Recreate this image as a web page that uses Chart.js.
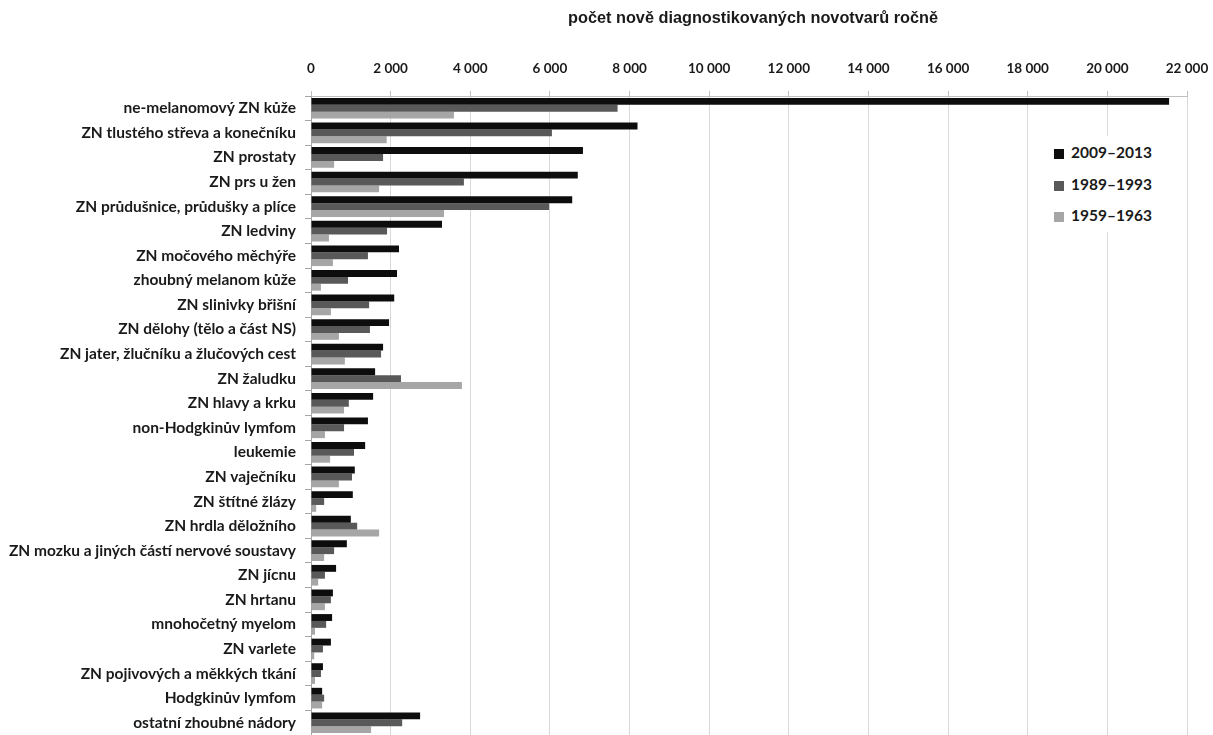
<!DOCTYPE html>
<html>
<head>
<meta charset="utf-8">
<script src="https://cdn.jsdelivr.net/npm/chart.js@4/dist/chart.umd.min.js"></script>
<style>
  body { margin: 0; background: #fff; }
  #wrap { position: relative; width: 1213px; height: 735px; }
  #legend { position: absolute; left: 1042px; top: 136px; width: 140px; height: 96px; background: #fff;
            font-family: Lato, "Noto Sans", sans-serif; font-weight: bold; font-size: 15.5px; color: #1a1a1a; }
  .item { position: absolute; left: 12px; height: 18px; line-height: 18px; white-space: nowrap; }
  .box { display: inline-block; width: 10px; height: 10px; margin-right: 7px; vertical-align: -1px; }
</style>
</head>
<body>
<div id="wrap">
  <canvas id="chart" width="1213" height="735"></canvas>
  <div id="legend"></div>
</div>
<script>
// categories, top to bottom
const categories = [
  "ne-melanomový ZN kůže",
  "ZN tlustého střeva a konečníku",
  "ZN prostaty",
  "ZN prs u žen",
  "ZN průdušnice, průdušky a plíce",
  "ZN ledviny",
  "ZN močového měchýře",
  "zhoubný melanom kůže",
  "ZN slinivky břišní",
  "ZN dělohy (tělo a část NS)",
  "ZN jater, žlučníku a žlučových cest",
  "ZN žaludku",
  "ZN hlavy a krku",
  "non-Hodgkinův lymfom",
  "leukemie",
  "ZN vaječníku",
  "ZN štítné žlázy",
  "ZN hrdla děložního",
  "ZN mozku a jiných částí nervové soustavy",
  "ZN jícnu",
  "ZN hrtanu",
  "mnohočetný myelom",
  "ZN varlete",
  "ZN pojivových a měkkých tkání",
  "Hodgkinův lymfom",
  "ostatní zhoubné nádory"
];

const seriesLabels = ["2009–2013", "1989–1993", "1959–1963"];
const seriesColors = ["#0d0d0d", "#595959", "#a6a6a6"];

const values2009 = [21550, 8200, 6830, 6700, 6560, 3290, 2210, 2160, 2090, 1960, 1810, 1610, 1560,
                    1430, 1360, 1100, 1050, 1000, 900, 630, 550, 530, 500, 300, 280, 2740];
const values1989 = [7700, 6050, 1810, 3840, 5980, 1910, 1430, 930, 1460, 1480, 1760, 2260, 950,
                    830, 1080, 1030, 330, 1160, 580, 350, 500, 380, 300, 250, 330, 2290];
const values1959 = [3590, 1900, 580, 1710, 3340, 450, 550, 250, 500, 700, 850, 3790, 830,
                    350, 480, 700, 130, 1710, 330, 180, 350, 100, 80, 100, 280, 1510];

const xTicks = [0, 2000, 4000, 6000, 8000, 10000, 12000, 14000, 16000, 18000, 20000, 22000];

const title = "počet nově diagnostikovaných novotvarů ročně";

function fmt(v) {
  return String(v).replace(/\B(?=(\d{3})+(?!\d))/g, " ");
}

const allSeries = [values2009, values1989, values1959];
const datasets = allSeries.map((vals, i) => ({
  label: seriesLabels[i],
  data: vals,
  backgroundColor: seriesColors[i],
  borderWidth: 0,
  barPercentage: 1.0,
  categoryPercentage: 0.84
}));

// legend inside the plot, like the original
const legend = document.getElementById("legend");
seriesLabels.forEach((lab, i) => {
  const it = document.createElement("div");
  it.className = "item";
  it.style.top = (7 + i * 31.5) + "px";
  it.innerHTML = '<span class="box" style="background:' + seriesColors[i] + '"></span>' + lab;
  legend.appendChild(it);
});

// title centred over the plot area, not the whole canvas
const topTitle = {
  id: "topTitle",
  afterDraw(chart) {
    const { ctx, chartArea } = chart;
    ctx.save();
    ctx.font = "bold 16.3px 'Liberation Sans', Arial, sans-serif";
    ctx.fillStyle = "#1a1a1a";
    ctx.textAlign = "center";
    ctx.textBaseline = "middle";
    ctx.fillText(title, (chartArea.left + chartArea.right) / 2 + 4, 19);
    ctx.restore();
  }
};

new Chart(document.getElementById("chart"), {
  type: "bar",
  data: { labels: categories, datasets: datasets },
  plugins: [topTitle],
  options: {
    indexAxis: "y",
    responsive: false,
    animation: false,
    devicePixelRatio: 1,
    layout: { padding: { left: 0, right: 26, top: 44, bottom: 0 } },
    plugins: {
      legend: { display: false },
      tooltip: { enabled: false }
    },
    scales: {
      x: {
        position: "top",
        min: 0,
        max: 22000,
        afterBuildTicks: (scale) => { scale.ticks = xTicks.map(v => ({ value: v })); },
        afterFit: (scale) => { scale.height = 52; scale.paddingLeft = 0; scale.paddingRight = 0; },
        ticks: {
          callback: (v) => fmt(v),
          color: "#1a1a1a",
          padding: 14,
          maxRotation: 0,
          font: { family: "Lato, 'Noto Sans', sans-serif", size: 13.5, weight: "bold" }
        },
        grid: { color: "#d9d9d9", tickLength: 5, tickColor: "#bfbfbf" },
        border: { color: "#bfbfbf" }
      },
      y: {
        afterFit: (scale) => { scale.width = 311; scale.paddingTop = 0; scale.paddingBottom = 0; },
        ticks: {
          color: "#1a1a1a",
          padding: 9,
          autoSkip: false,
          font: { family: "Lato, 'Noto Sans', sans-serif", size: 15.5, weight: "bold" }
        },
        grid: { drawOnChartArea: false, tickLength: 6, color: "#a6a6a6" },
        border: { color: "#a6a6a6" }
      }
    }
  }
});
</script>
</body>
</html>
